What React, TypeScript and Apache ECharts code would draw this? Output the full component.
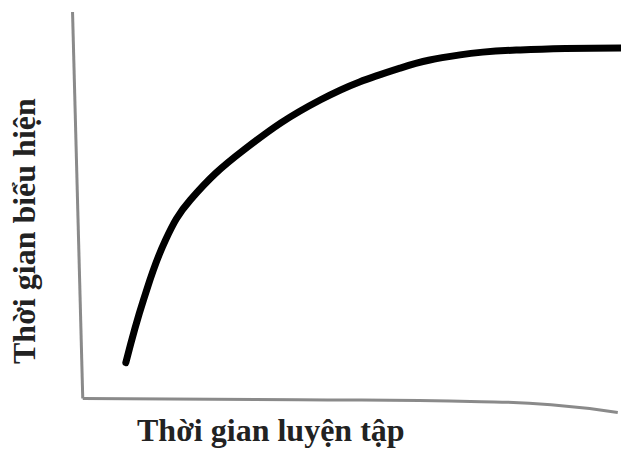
import React, { useEffect, useRef } from "react";
import * as echarts from "echarts";

// Curve: training time (x) vs performance time (y), arbitrary units
const curveX = [8.0, 11.3, 15.4, 20.0, 29.9, 44.2, 59.0, 70.1, 81.3, 100];
const curveY = [9.3, 25.6, 41.1, 51.4, 64.3, 77.3, 85.5, 88.9, 90.2, 90.7];

// Hand-drawn axes
const yAxisLineX = [-1.9, 0];
const yAxisLineY = [100, 0];
const xAxisLineX = [0, 40, 74.0, 87.0, 99.4];
const xAxisLineY = [0, -0.3, -0.8, -1.6, -3.6];

const xTitle = "Thời gian luyện tập";
const yTitle = "Thời gian biểu hiện";

export default function App() {
  const ref = useRef<HTMLDivElement>(null);
  useEffect(() => {
    const chart = echarts.init(ref.current!, null, { renderer: "svg" });
    const zip = (a: number[], b: number[]) => a.map((v, i) => [v, b[i]]);
    chart.setOption({
      animation: false,
      backgroundColor: "#fff",
      grid: { left: 72, right: 0, top: 12, bottom: 38 },
      xAxis: { type: "value", min: -2, max: 100, show: false },
      yAxis: { type: "value", min: -4, max: 100, show: false },
      series: [
        {
          type: "line",
          data: zip(yAxisLineX, yAxisLineY),
          showSymbol: false,
          lineStyle: { color: "#8a8a8a", width: 3 },
        },
        {
          type: "line",
          data: zip(xAxisLineX, xAxisLineY),
          smooth: true,
          showSymbol: false,
          lineStyle: { color: "#8a8a8a", width: 3 },
        },
        {
          type: "line",
          data: zip(curveX, curveY),
          smooth: 0.4,
          showSymbol: false,
          lineStyle: { color: "#000", width: 7, cap: "round" },
        },
      ],
      graphic: [
        {
          type: "text",
          left: 137,
          top: 414,
          style: {
            text: xTitle,
            font: "bold 32px 'Liberation Serif', 'DejaVu Serif', serif",
            fill: "#222",
          },
        },
        {
          type: "text",
          x: 8,
          y: 364,
          rotation: Math.PI / 2,
          style: {
            text: yTitle,
            font: "bold 32px 'Liberation Serif', 'DejaVu Serif', serif",
            fill: "#222",
            textAlign: "left",
            textVerticalAlign: "top",
          },
        },
      ],
    });
    return () => chart.dispose();
  }, []);
  return <div ref={ref} style={{ width: 621, height: 452, position: "absolute", left: 0, top: 0 }} />;
}
